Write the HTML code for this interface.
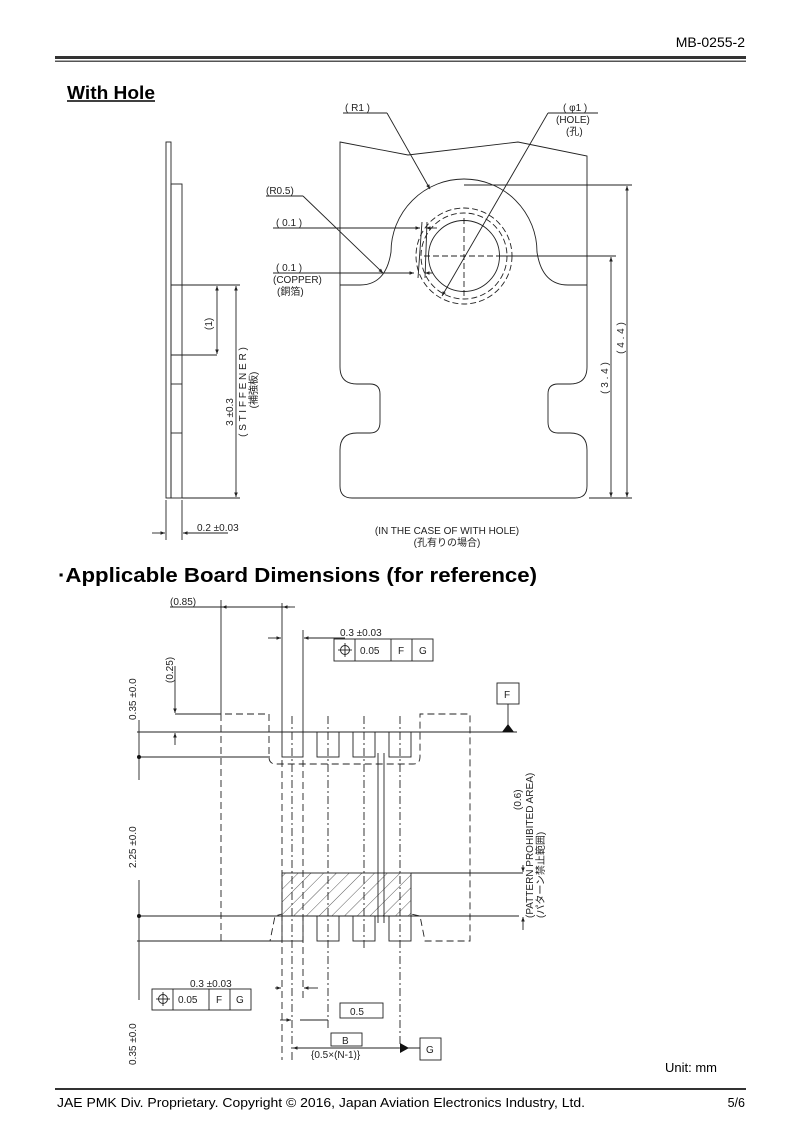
<!DOCTYPE html>
<html><head><meta charset="utf-8"><style>
html,body{margin:0;padding:0;background:#fff;}
svg{display:block}
text{font-family:"Liberation Sans","Noto Sans CJK JP",sans-serif;fill:#000}
.d{font-family:"Liberation Sans","Noto Sans CJK JP",sans-serif;font-size:10px;fill:#222}
</style></head><body>
<svg width="793" height="1123" viewBox="0 0 793 1123" xmlns="http://www.w3.org/2000/svg">
<defs>
<marker id="a" viewBox="0 0 10 10" refX="10" refY="5" markerWidth="7" markerHeight="5" orient="auto-start-reverse"><path d="M0,1 L10,5 L0,9 z" fill="#222"/></marker>
<pattern id="h" width="9" height="9" patternUnits="userSpaceOnUse" patternTransform="rotate(45)"><line x1="0" y1="0" x2="0" y2="9" stroke="#333" stroke-width="0.8"/></pattern>
</defs>
<!-- header -->
<text x="745" y="47" font-size="14" text-anchor="end">MB-0255-2</text>
<rect x="55" y="56" width="691" height="3" fill="#333"/>
<rect x="55" y="60.5" width="691" height="1.5" fill="#555"/>
<text x="67" y="99" font-size="18" font-weight="bold" textLength="88" lengthAdjust="spacingAndGlyphs">With Hole</text>
<line x1="67" y1="101" x2="155" y2="101" stroke="#000" stroke-width="1.5"/>

<g stroke="#222" stroke-width="0.9" fill="none">
<!-- side view -->
<rect x="166" y="142" width="5" height="356"/>
<rect x="171" y="184" width="11" height="314"/>
<line x1="171" y1="285" x2="240" y2="285"/>
<line x1="171" y1="355" x2="217" y2="355"/>
<line x1="171" y1="384" x2="182" y2="384"/>
<line x1="171" y1="433" x2="182" y2="433"/>
<line x1="182" y1="498" x2="240" y2="498"/>
<line x1="217" y1="286" x2="217" y2="354" marker-start="url(#a)" marker-end="url(#a)"/>
<line x1="236" y1="286" x2="236" y2="497" marker-start="url(#a)" marker-end="url(#a)"/>
<line x1="166" y1="500" x2="166" y2="540"/>
<line x1="182" y1="500" x2="182" y2="540"/>
<line x1="152" y1="533" x2="165" y2="533" marker-end="url(#a)"/>
<line x1="228" y1="533" x2="183" y2="533" marker-end="url(#a)"/>

<!-- main part -->
<path d="M340,142 L408,155 L518,142 L587,156 L587,367 Q587,384 570,384 L558,384 Q548,384 548,394 L548,422 Q548,433 558,433 L570,433 Q587,433 587,450 L587,486 Q587,498 575,498 L352,498 Q340,498 340,486 L340,450 Q340,433 357,433 L370,433 Q380,433 380,422 L380,394 Q380,384 370,384 L357,384 Q340,384 340,367 Z"/>
<path d="M340,285 L360,285 Q386,285 391,252 A71,71 0 0 1 537,252 Q542,285 568,285 L587,285"/>
<circle cx="464" cy="256" r="35.5"/>
<circle cx="464" cy="256" r="43" stroke-dasharray="6,3"/>
<circle cx="464" cy="256" r="48" stroke-dasharray="6,3"/>
<line x1="464" y1="218" x2="464" y2="296" stroke-dasharray="6,3"/>
<line x1="424" y1="256" x2="500" y2="256" stroke-dasharray="6,3"/>
<line x1="500" y1="256" x2="616" y2="256"/>
<line x1="464" y1="185" x2="632" y2="185"/>
<line x1="589" y1="498" x2="632" y2="498"/>
<line x1="627" y1="186" x2="627" y2="497" marker-start="url(#a)" marker-end="url(#a)"/>
<line x1="611" y1="257" x2="611" y2="497" marker-start="url(#a)" marker-end="url(#a)"/>
<!-- leaders -->
<line x1="343" y1="113" x2="387" y2="113"/>
<line x1="387" y1="113" x2="430" y2="189" marker-end="url(#a)"/>
<line x1="548" y1="113" x2="598" y2="113"/>
<line x1="548" y1="113" x2="442" y2="296" marker-end="url(#a)"/>
<line x1="266" y1="196" x2="303" y2="196"/>
<line x1="303" y1="196" x2="383" y2="273" marker-end="url(#a)"/>
<line x1="273" y1="228" x2="420" y2="228" marker-end="url(#a)"/>
<line x1="437" y1="228" x2="426" y2="228" marker-end="url(#a)"/>
<line x1="422" y1="222" x2="418" y2="278"/>
<line x1="427" y1="222" x2="425" y2="278"/>
<line x1="273" y1="273" x2="414" y2="273" marker-end="url(#a)"/>
<line x1="433" y1="273" x2="425" y2="273" marker-end="url(#a)"/>
</g>
<text class="d" x="345" y="111">( R1 )</text>
<text class="d" x="563" y="111">( φ1 )</text>
<text class="d" x="556" y="123">(HOLE)</text>
<text class="d" x="566" y="135">(孔)</text>
<text class="d" x="266" y="194">(R0.5)</text>
<text class="d" x="276" y="226">( 0.1 )</text>
<text class="d" x="276" y="271">( 0.1 )</text>
<text class="d" x="273" y="283">(COPPER)</text>
<text class="d" x="277" y="295">(銅箔)</text>
<text class="d" x="197" y="531">0.2 ±0.03</text>
<text class="d" transform="translate(212,330) rotate(-90)">(1)</text>
<text class="d" transform="translate(233,412) rotate(-90)" text-anchor="middle">3 ±0.3</text>
<text class="d" transform="translate(246,392) rotate(-90)" text-anchor="middle">( S T I F F E N E R )</text>
<text class="d" transform="translate(257,390) rotate(-90)" text-anchor="middle">(補強板)</text>
<text class="d" transform="translate(608,378) rotate(-90)" text-anchor="middle">( 3 . 4 )</text>
<text class="d" transform="translate(624,338) rotate(-90)" text-anchor="middle">( 4 . 4 )</text>
<text class="d" x="447" y="534" text-anchor="middle">(IN THE CASE OF WITH HOLE)</text>
<text class="d" x="447" y="546" text-anchor="middle">(孔有りの場合)</text>

<text x="58" y="582" font-size="20" font-weight="bold" textLength="479" lengthAdjust="spacingAndGlyphs">·Applicable Board Dimensions (for reference)</text>

<!-- board dims -->
<g stroke="#222" stroke-width="0.9" fill="none">
<rect x="282" y="873" width="129" height="43" fill="url(#h)"/>
<rect x="282" y="732" width="21" height="25" fill="#fff"/>
<rect x="317" y="732" width="22" height="25" fill="#fff"/>
<rect x="353" y="732" width="22" height="25" fill="#fff"/>
<rect x="389" y="732" width="22" height="25" fill="#fff"/>
<rect x="282" y="916" width="21" height="25" fill="#fff"/>
<rect x="317" y="916" width="22" height="25" fill="#fff"/>
<rect x="353" y="916" width="22" height="25" fill="#fff"/>
<rect x="389" y="916" width="22" height="25" fill="#fff"/>
<g stroke-dasharray="8,3,2,3">
<line x1="292" y1="716" x2="292" y2="1060"/>
<line x1="328" y1="716" x2="328" y2="1030"/>
<line x1="364" y1="716" x2="364" y2="950"/>
<line x1="400" y1="716" x2="400" y2="1050"/>
</g>
<g stroke-dasharray="7,4">
<path d="M221,941 L221,714 L269,714 L269,757 Q269,764 276,764 L413,764 Q420,764 420,757 L420,714 L470,714 L470,941 L425,941 L420,916 L411,914"/>
<path d="M221,941 L270,941 L275,916 L282,914"/>
<line x1="282" y1="760" x2="282" y2="1060"/>
<line x1="303" y1="760" x2="303" y2="1000"/>
</g>
<line x1="378" y1="753" x2="378" y2="923"/>
<line x1="384" y1="753" x2="384" y2="923"/>
<line x1="137" y1="732" x2="517" y2="732"/>
<line x1="139" y1="757" x2="270" y2="757"/>
<line x1="139" y1="916" x2="519" y2="916"/>
<line x1="137" y1="941" x2="282" y2="941"/>
<line x1="411" y1="873" x2="523" y2="873"/>
<line x1="139" y1="720" x2="139" y2="780"/>
<line x1="139" y1="880" x2="139" y2="1000"/>
<line x1="175" y1="714" x2="221" y2="714"/>
<line x1="175" y1="666" x2="175" y2="713" marker-end="url(#a)"/>
<line x1="175" y1="745" x2="175" y2="733" marker-end="url(#a)"/>
<line x1="170" y1="607" x2="290" y2="607"/>
<line x1="221" y1="600" x2="221" y2="714"/>
<line x1="282" y1="603" x2="282" y2="732"/>
<line x1="232" y1="607" x2="222" y2="607" marker-end="url(#a)"/>
<line x1="295" y1="607" x2="283" y2="607" marker-end="url(#a)"/>
<line x1="303" y1="630" x2="303" y2="732"/>
<line x1="268" y1="638" x2="281" y2="638" marker-end="url(#a)"/>
<line x1="345" y1="638" x2="304" y2="638" marker-end="url(#a)"/>
<rect x="334" y="639" width="99" height="22"/>
<line x1="355" y1="639" x2="355" y2="661"/><line x1="391" y1="639" x2="391" y2="661"/><line x1="412" y1="639" x2="412" y2="661"/>
<circle cx="345" cy="650" r="4.5"/><line x1="338" y1="650" x2="352" y2="650"/><line x1="345" y1="643" x2="345" y2="657"/>
<rect x="497" y="683" width="22" height="21"/>
<line x1="508" y1="704" x2="508" y2="727"/>
<line x1="523" y1="865" x2="523" y2="872" marker-end="url(#a)"/>
<line x1="523" y1="930" x2="523" y2="917" marker-end="url(#a)"/>
<line x1="275" y1="988" x2="281" y2="988" marker-end="url(#a)"/>
<line x1="318" y1="988" x2="304" y2="988" marker-end="url(#a)"/>
<rect x="152" y="989" width="99" height="21"/>
<line x1="173" y1="989" x2="173" y2="1010"/><line x1="209" y1="989" x2="209" y2="1010"/><line x1="230" y1="989" x2="230" y2="1010"/>
<circle cx="163" cy="999" r="4.5"/><line x1="156" y1="999" x2="170" y2="999"/><line x1="163" y1="992" x2="163" y2="1006"/>
<rect x="340" y="1003" width="43" height="15"/>
<line x1="280" y1="1020" x2="291" y2="1020" marker-end="url(#a)"/>
<line x1="328" y1="1020" x2="300" y2="1020"/>
<rect x="331" y="1033" width="31" height="13"/>
<line x1="293" y1="1048" x2="399" y2="1048" marker-start="url(#a)"/>
<line x1="400" y1="1048" x2="420" y2="1048"/>
<rect x="420" y="1038" width="21" height="22"/>
</g>
<path d="M502,732 L514,732 L508,724 Z" fill="#111"/>
<path d="M400,1043 L409,1048 L400,1053 Z" fill="#111"/>
<circle cx="139" cy="757" r="2" fill="#111"/>
<circle cx="139" cy="916" r="2" fill="#111"/>
<text class="d" x="170" y="605">(0.85)</text>
<text class="d" x="340" y="636">0.3 ±0.03</text>
<text class="d" x="360" y="654">0.05</text><text class="d" x="398" y="654">F</text><text class="d" x="419" y="654">G</text>
<text class="d" x="504" y="698">F</text>
<text class="d" transform="translate(173,683) rotate(-90)">(0.25)</text>
<text class="d" transform="translate(136,720) rotate(-90)">0.35 ±0.0</text>
<text class="d" transform="translate(136,868) rotate(-90)">2.25 ±0.0</text>
<text class="d" transform="translate(136,1065) rotate(-90)">0.35 ±0.0</text>
<text class="d" transform="translate(521,810) rotate(-90)">(0.6)</text>
<text class="d" transform="translate(533,918) rotate(-90)">(PATTERN PROHIBITED AREA)</text>
<text class="d" transform="translate(544,918) rotate(-90)">(パターン禁止範囲)</text>
<text class="d" x="190" y="987">0.3 ±0.03</text>
<text class="d" x="178" y="1003">0.05</text><text class="d" x="216" y="1003">F</text><text class="d" x="236" y="1003">G</text>
<text class="d" x="350" y="1015">0.5</text>
<text class="d" x="342" y="1044">B</text>
<text class="d" x="426" y="1053">G</text>
<text class="d" x="311" y="1058">{0.5×(N-1)}</text>
<text x="665" y="1072" font-size="13">Unit: mm</text>

<!-- footer -->
<rect x="55" y="1088" width="691" height="2" fill="#333"/>
<text x="57" y="1107" font-size="12.5" textLength="528" lengthAdjust="spacingAndGlyphs">JAE PMK Div. Proprietary. Copyright ©  2016, Japan Aviation Electronics Industry, Ltd.</text>
<text x="745" y="1107" font-size="12.5" text-anchor="end">5/6</text>
</svg>
</body></html>
